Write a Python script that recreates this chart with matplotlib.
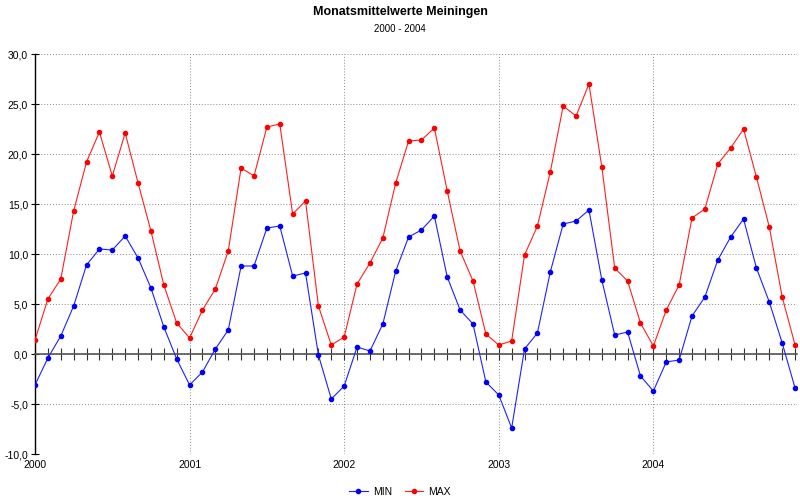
import matplotlib
matplotlib.use("Agg")
import matplotlib.pyplot as plt
import numpy as np

plt.rcParams['font.family'] = ['Liberation Sans Narrow', 'Liberation Sans', 'DejaVu Sans']

years = ["2000", "2001", "2002", "2003", "2004"]
min_vals = [
    -3.1, -0.4, 1.8, 4.8, 8.9, 10.5, 10.4, 11.8, 9.6, 6.6, 2.7, -0.5,
    -3.1, -1.8, 0.5, 2.4, 8.8, 8.8, 12.6, 12.8, 7.8, 8.1, -0.1, -4.5,
    -3.2, 0.7, 0.3, 3.0, 8.3, 11.7, 12.4, 13.8, 7.7, 4.4, 3.0, -2.8,
    -4.1, -7.4, 0.5, 2.1, 8.2, 13.0, 13.3, 14.4, 7.4, 1.9, 2.2, -2.2,
    -3.7, -0.8, -0.6, 3.8, 5.7, 9.4, 11.7, 13.5, 8.6, 5.2, 1.1, -3.4,
]
max_vals = [
    1.4, 5.5, 7.5, 14.3, 19.2, 22.2, 17.8, 22.1, 17.1, 12.3, 6.9, 3.1,
    1.6, 4.4, 6.5, 10.3, 18.6, 17.8, 22.7, 23.0, 14.0, 15.3, 4.8, 0.9,
    1.7, 7.0, 9.1, 11.6, 17.1, 21.3, 21.4, 22.6, 16.3, 10.3, 7.3, 2.0,
    0.9, 1.3, 9.9, 12.8, 18.2, 24.8, 23.8, 27.0, 18.7, 8.6, 7.3, 3.1,
    0.8, 4.4, 6.9, 13.6, 14.5, 19.0, 20.6, 22.5, 17.7, 12.7, 5.7, 0.9,
]
y_ticks = [-10, -5, 0, 5, 10, 15, 20, 25, 30]

x = np.arange(len(min_vals))
year_pos = np.arange(len(years)) * 12

fig = plt.figure(figsize=(8.0, 5.04), dpi=100)
ax = fig.add_axes([35/800, 50/504, 762/800, 400/504])

ax.plot(x, min_vals, color='#2020ff', lw=0.8, marker='o', ms=3.0,
        mec='#0000ff', mfc='#0000ff', label='MIN', zorder=4)
ax.plot(x, max_vals, color='#ff2020', lw=0.8, marker='o', ms=3.0,
        mec='#ff0000', mfc='#ff0000', label='MAX', zorder=4)

ax.set_xlim(0, len(min_vals) - 1 + 0.15)
ax.set_ylim(-10, 30)

# y axis
ax.set_yticks(y_ticks)
ax.set_yticklabels([f"{v:.1f}".replace('.', ',') for v in y_ticks], fontsize=7.5)
ax.tick_params(axis='y', direction='inout', length=6, width=0.8, pad=2, color='black')
ax.yaxis.grid(True, linestyle=(0, (1, 2)), color='#888888', lw=0.7)

# x axis at zero with month ticks
ax.spines['bottom'].set_position(('data', 0))
ax.spines['bottom'].set_color('#555555')
ax.spines['bottom'].set_linewidth(1.2)
ax.set_xticks(year_pos)
ax.set_xticks(x, minor=True)
ax.tick_params(axis='x', which='both', direction='inout', length=8, width=0.8,
               color='#333333', labelbottom=False)
ax.xaxis.grid(True, which='major', linestyle=(0, (1, 2)), color='#888888', lw=0.7)
ax.spines['top'].set_visible(False)
ax.spines['right'].set_visible(False)
ax.spines['left'].set_linewidth(1.0)

sec = ax.secondary_xaxis(0)
sec.set_xticks(year_pos)
sec.set_xticklabels(years, fontsize=7.5)
sec.tick_params(length=0, pad=4)
sec.spines['bottom'].set_visible(False)

ax.set_axisbelow(True)

fig.text(0.5, 1 - 12/504, "Monatsmittelwerte Meiningen", ha='center', va='center',
         fontsize=9, fontweight='bold')
fig.text(0.5, 1 - 29/504, "2000 - 2004", ha='center', va='center', fontsize=7)

fig.legend(loc='center', bbox_to_anchor=(0.5, 1 - 492/504), ncol=2, frameon=False,
           fontsize=7.5, handlelength=1.8, columnspacing=1.2, handletextpad=0.5)

fig.savefig("out.png", dpi=100)
